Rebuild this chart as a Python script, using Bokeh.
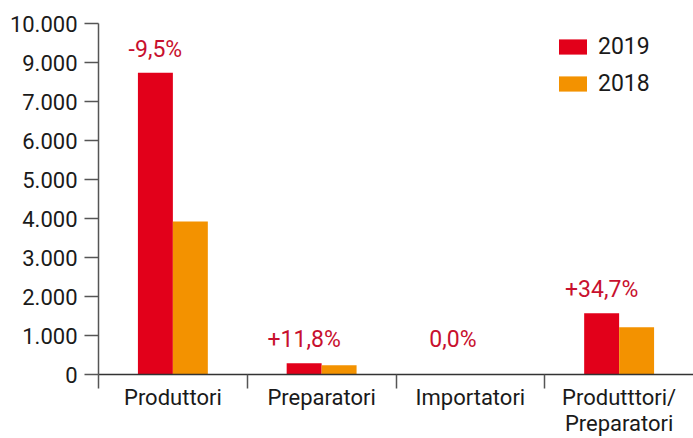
from bokeh.plotting import figure
from bokeh.models import (ColumnDataSource, Range1d, FixedTicker, LabelSet,
                          Legend, LegendItem)
from bokeh.core.properties import value
from bokeh.transform import dodge
from bokeh.embed import file_html
from bokeh.resources import INLINE

# ---- data ----
categories = ["Produttori", "Preparatori", "Importatori", "Produtttori/\nPreparatori"]
values_2019 = [7740, 290, 0, 1570]
values_2018 = [3920, 240, 0, 1210]
pct_labels = ["-9,5%", "+11,8%", "0,0%", "+34,7%"]
y_ticks = [0, 1000, 2000, 3000, 4000, 5000, 6000, 7000, 8000, 9000]
y_tick_labels = ["0", "1.000", "2.000", "3.000", "4.000", "5.000", "6.000",
                 "7.000", "9.000", "10.000"]

FONT = "Roboto"
RED = "#E2001A"
ORANGE = "#F39200"
LABEL_RED = "#C8102E"
TEXT = "#1a1a1a"

xpos = [i + 0.5 for i in range(len(categories))]
src = ColumnDataSource(dict(
    x=xpos, v19=values_2019, v18=values_2018, pct=pct_labels,
    ly=[max(v, 290) for v in values_2019],
))

p = figure(width=693, height=438, output_backend="svg", toolbar_location=None,
           x_range=Range1d(0, 4), y_range=Range1d(0, 9000),
           min_border_left=98, min_border_right=0, min_border_top=23,
           min_border_bottom=62)
p.outline_line_color = None
p.xgrid.visible = False
p.ygrid.visible = False
p.background_fill_color = "white"
p.border_fill_color = "white"

bw = 0.235
r19 = p.vbar(x=dodge("x", -bw / 2, range=p.x_range), top="v19", width=bw,
             source=src, fill_color=RED, line_color=None)
r18 = p.vbar(x=dodge("x", bw / 2, range=p.x_range), top="v18", width=bw,
             source=src, fill_color=ORANGE, line_color=None)

labels = LabelSet(x=dodge("x", -bw / 2, range=p.x_range), y="ly", text="pct",
                  source=src, text_align="center", text_baseline="bottom",
                  y_offset=10, text_color=LABEL_RED, text_font=value(FONT),
                  text_font_size="23px")
p.add_layout(labels)

# x axis
xa = p.xaxis[0]
xa.ticker = FixedTicker(ticks=xpos, minor_ticks=[0, 1, 2, 3])
xa.major_label_overrides = {x: c for x, c in zip(xpos, categories)}
xa.major_tick_out = 0
xa.major_tick_in = 0
xa.minor_tick_out = 14
xa.minor_tick_in = 0
xa.minor_tick_line_color = "#555555"
xa.minor_tick_line_width = 1.5
xa.axis_line_color = "#333333"
xa.axis_line_width = 1.5
xa.major_label_standoff = -4
xa.major_label_text_font = FONT
xa.major_label_text_font_size = "22px"
xa.major_label_text_line_height = 1.05
xa.major_label_text_color = TEXT

# y axis
ya = p.yaxis[0]
ya.ticker = FixedTicker(ticks=y_ticks)
ya.major_label_overrides = {t: l for t, l in zip(y_ticks, y_tick_labels)}
ya.major_tick_out = 14
ya.major_tick_in = 0
ya.minor_tick_out = 0
ya.minor_tick_in = 0
ya.major_tick_line_color = "#555555"
ya.major_tick_line_width = 1.5
ya.axis_line_color = "#555555"
ya.axis_line_width = 1.5
ya.major_label_standoff = 7
ya.major_label_text_font = FONT
ya.major_label_text_font_size = "22px"
ya.major_label_text_color = TEXT

legend = Legend(items=[LegendItem(label="2019", renderers=[r19]),
                       LegendItem(label="2018", renderers=[r18])],
                location=(457, 277), orientation="vertical",
                glyph_width=35, glyph_height=19, spacing=10, padding=0,
                margin=0, label_standoff=8, border_line_color=None,
                background_fill_alpha=0,
                label_text_font=FONT, label_text_font_size="23px",
                label_text_color=TEXT)
p.add_layout(legend)

open("out.html", "w").write(file_html(p, INLINE))
